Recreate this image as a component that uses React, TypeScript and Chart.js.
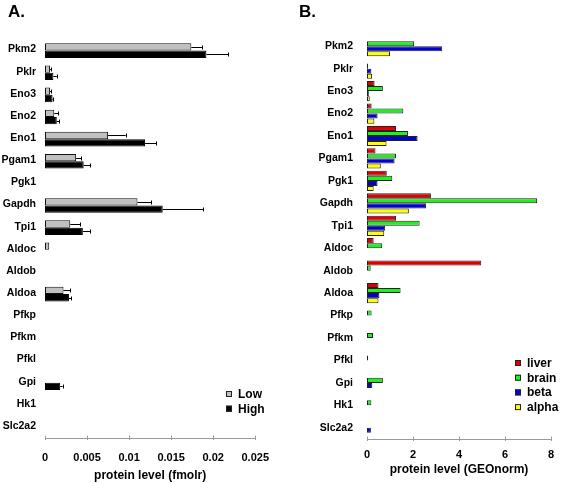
import React, { useEffect, useRef } from "react";
import { Chart, registerables } from "chart.js";

Chart.register(...registerables);

const genes = ["Pkm2", "Pklr", "Eno3", "Eno2", "Eno1", "Pgam1", "Pgk1", "Gapdh", "Tpi1", "Aldoc", "Aldob", "Aldoa", "Pfkp", "Pfkm", "Pfkl", "Gpi", "Hk1", "Slc2a2"];

// Panel A (fmolr)
const lowValues = [0.0174, 0.0006, 0.0006, 0.0011, 0.0075, 0.0037, 0, 0.011, 0.003, 0.0005, 0, 0.0022, 0, 0, 0, 0, 0, 0];
const lowErrors = [0.0013, 0.0001, 0.0001, 0.0005, 0.0021, 0.0006, 0, 0.0016, 0.0012, 0, 0, 0.0008, 0, 0, 0, 0, 0, 0];
const highValues = [0.0192, 0.001, 0.0009, 0.0014, 0.0119, 0.0046, 0, 0.014, 0.0045, 0, 0, 0.00285, 0, 0, 0, 0.0018, 0, 0];
const highErrors = [0.0026, 0.0004, 0.0001, 0.0003, 0.0013, 0.0008, 0, 0.0048, 0.0009, 0, 0, 0.0003, 0, 0, 0, 0.0003, 0, 0];
const xTicksA = ["0", "0.005", "0.01", "0.015", "0.02", "0.025"];

// Panel B (GEOnorm)
const liver = [0, 0, 0.33, 0.2, 1.26, 0.37, 0.86, 2.78, 1.26, 0.29, 4.97, 0.5, 0, 0, 0, 0, 0, 0];
const brain = [2.05, 0.05, 0.69, 1.58, 1.78, 1.26, 1.1, 7.4, 2.29, 0.66, 0.16, 1.46, 0.2, 0.26, 0.05, 0.69, 0.19, 0];
const beta = [3.27, 0.19, 0.08, 0.46, 2.2, 1.2, 0.46, 2.57, 0.79, 0, 0, 0.54, 0, 0, 0, 0.23, 0, 0.17];
const alpha = [1.0, 0.22, 0.12, 0.32, 0.85, 0.6, 0.29, 1.82, 0.75, 0, 0, 0.5, 0, 0, 0, 0, 0, 0];
const xTicksB = ["0", "2", "4", "6", "8"];

const FONT = "'Liberation Sans', Arial, sans-serif";
const nz = (arr: number[]) => arr.map((v) => (v === 0 ? null : v));

const axisPlugin = {
  id: "axisLine",
  afterDraw(chart: any) {
    const { ctx, chartArea } = chart;
    const xs = chart.scales.x;
    ctx.save();
    ctx.strokeStyle = "#9a9a9a";
    ctx.lineWidth = 1;
    ctx.beginPath();
    const y = Math.round(chartArea.bottom) + 0.5;
    ctx.moveTo(chartArea.left, y);
    ctx.lineTo(chartArea.right, y);
    xs.ticks.forEach((t: any) => {
      const px = Math.round(xs.getPixelForValue(t.value)) + 0.5;
      ctx.moveTo(px, y - 3);
      ctx.lineTo(px, y + 1.5);
    });
    ctx.stroke();
    ctx.restore();
  },
};

function legendPlugin(x: number, y: number, step: number) {
  return {
    id: "customLegend",
    afterDraw(chart: any) {
      const { ctx } = chart;
      ctx.save();
      ctx.font = `bold 12px ${FONT}`;
      ctx.textBaseline = "middle";
      chart.data.datasets.forEach((ds: any, i: number) => {
        const cy = y + i * step;
        ctx.fillStyle = ds.backgroundColor;
        ctx.fillRect(x, cy - 3, 6, 6);
        ctx.strokeStyle = "#222";
        ctx.lineWidth = 1;
        ctx.strokeRect(x + 0.5, cy - 2.5, 5, 5);
        ctx.fillStyle = "#000";
        ctx.fillText(ds.label, x + 12, cy + 0.5);
      });
      ctx.restore();
    },
  };
}

const errorPlugin = {
  id: "errorBars",
  afterDatasetsDraw(chart: any) {
    const { ctx } = chart;
    const xs = chart.scales.x;
    ctx.save();
    ctx.strokeStyle = "#000";
    ctx.lineWidth = 1;
    chart.data.datasets.forEach((ds: any, di: number) => {
      const meta = chart.getDatasetMeta(di);
      const errs: number[] = ds.errors || [];
      meta.data.forEach((el: any, i: number) => {
        const v = ds.data[i];
        const e = errs[i];
        if (v == null || !e) return;
        const x0 = xs.getPixelForValue(v);
        const x1 = xs.getPixelForValue(v + e);
        const y = Math.round(el.y) + 0.5;
        ctx.beginPath();
        ctx.moveTo(x0, y);
        ctx.lineTo(x1, y);
        ctx.moveTo(Math.round(x1) + 0.5, y - 2);
        ctx.lineTo(Math.round(x1) + 0.5, y + 2);
        ctx.stroke();
      });
    });
    ctx.restore();
  },
};

function ChartA() {
  const ref = useRef<HTMLCanvasElement>(null);
  useEffect(() => {
    const chart = new Chart(ref.current as HTMLCanvasElement, {
      type: "bar",
      data: {
        labels: genes,
        datasets: [
          { label: "Low", data: nz(lowValues), errors: lowErrors, backgroundColor: "#c0c0c0", borderColor: "#111", borderWidth: 1, borderSkipped: false } as any,
          { label: "High", data: nz(highValues), errors: highErrors, backgroundColor: "#000000", borderColor: "#000", borderWidth: 1, borderSkipped: false } as any,
        ],
      },
      options: {
        indexAxis: "y",
        animation: false,
        responsive: false,
        maintainAspectRatio: false,
        layout: { padding: { top: 39.5, right: 26, bottom: 0, left: 0 } },
        datasets: { bar: { categoryPercentage: 0.66, barPercentage: 1 } },
        plugins: { legend: { display: false }, tooltip: { enabled: false } },
        scales: {
          x: {
            min: 0,
            max: 0.025,
            ticks: {
              stepSize: 0.005,
              color: "#000",
              font: { family: FONT, size: 11, weight: "bold" },
              padding: 13,
              maxRotation: 0,
              callback: (_v: any, i: number) => xTicksA[i],
            },
            grid: { display: false, drawTicks: false },
            border: { display: false },
            title: { display: true, text: "protein level (fmolr)", color: "#000", font: { family: FONT, size: 12, weight: "bold" }, padding: { top: 0, bottom: 0 } },
            afterFit: (s: any) => { s.height = 45; },
          },
          y: {
            ticks: { color: "#000", font: { family: FONT, size: 10.5, weight: "bold" }, padding: 9, labelOffset: -1 },
            grid: { display: false, drawTicks: false },
            border: { display: false },
            afterFit: (s: any) => { s.width = 45; },
          },
        },
      } as any,
      plugins: [errorPlugin, axisPlugin, legendPlugin(226, 394, 14.7)],
    });
    return () => chart.destroy();
  }, []);
  return <canvas ref={ref} width={282} height={483} style={{ position: "absolute", left: 0, top: 0 }} />;
}

function ChartB() {
  const ref = useRef<HTMLCanvasElement>(null);
  useEffect(() => {
    const mk = (label: string, data: number[], color: string) => ({
      label, data: nz(data), backgroundColor: color, borderColor: "#222", borderWidth: 1, borderSkipped: false,
    });
    const chart = new Chart(ref.current as HTMLCanvasElement, {
      type: "bar",
      data: {
        labels: genes,
        datasets: [
          mk("liver", liver, "#e00000"),
          mk("brain", brain, "#22ee22"),
          mk("beta", beta, "#0000dd"),
          mk("alpha", alpha, "#ffff00"),
        ] as any,
      },
      options: {
        indexAxis: "y",
        animation: false,
        responsive: false,
        maintainAspectRatio: false,
        layout: { padding: { top: 35, right: 10, bottom: 1, left: 0 } },
        datasets: { bar: { categoryPercentage: 0.9, barPercentage: 1 } },
        plugins: { legend: { display: false }, tooltip: { enabled: false } },
        scales: {
          x: {
            min: 0,
            max: 8,
            ticks: {
              stepSize: 2,
              color: "#000",
              font: { family: FONT, size: 11, weight: "bold" },
              padding: 9,
              maxRotation: 0,
              callback: (_v: any, i: number) => xTicksB[i],
            },
            grid: { display: false, drawTicks: false },
            border: { display: false },
            title: { display: true, text: "protein level (GEOnorm)", color: "#000", font: { family: FONT, size: 12, weight: "bold" }, padding: { top: 0, bottom: 5 } },
            afterFit: (s: any) => { s.height = 43; },
          },
          y: {
            ticks: { color: "#000", font: { family: FONT, size: 10.5, weight: "bold" }, padding: 14 },
            grid: { display: false, drawTicks: false },
            border: { display: false },
            afterFit: (s: any) => { s.width = 85; },
          },
        },
      } as any,
      plugins: [axisPlugin, legendPlugin(233, 363, 14.7)],
    });
    return () => chart.destroy();
  }, []);
  return <canvas ref={ref} width={281} height={483} style={{ position: "absolute", left: 282, top: 0 }} />;
}

export default function App() {
  useEffect(() => {
    document.body.style.margin = "0";
  }, []);
  const head: React.CSSProperties = { position: "absolute", top: 2, fontFamily: FONT, fontWeight: "bold", fontSize: 17, color: "#000", lineHeight: "20px" };
  return (
    <div style={{ position: "relative", width: 563, height: 483, background: "#fff", overflow: "hidden" }}>
      <ChartA />
      <ChartB />
      <div style={{ ...head, left: 8 }}>A.</div>
      <div style={{ ...head, left: 299 }}>B.</div>
    </div>
  );
}
